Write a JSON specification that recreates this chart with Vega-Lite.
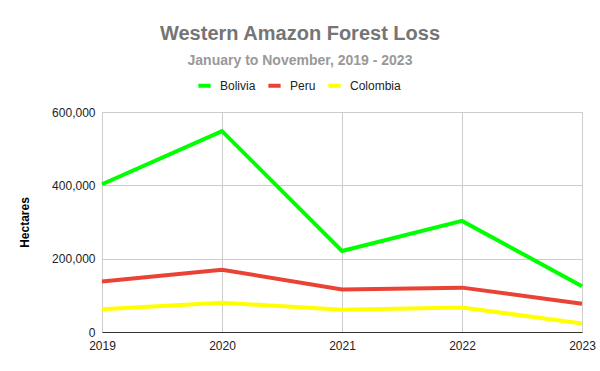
{
  "$schema": "https://vega.github.io/schema/vega-lite/v6.json",
  "autosize": {"type": "none"},
  "width": 480,
  "height": 220,
  "padding": {"left": 102, "top": 112, "right": 18, "bottom": 39},
  "background": "white",
  "title": {
    "text": "Western Amazon Forest Loss",
    "subtitle": "January to November, 2019 - 2023",
    "anchor": "middle",
    "dx": -42,
    "offset": 9,
    "font": "Liberation Sans",
    "fontSize": 20,
    "fontWeight": "bold",
    "color": "#757575",
    "subtitleFont": "Liberation Sans",
    "subtitleFontSize": 14,
    "subtitleFontWeight": "bold",
    "subtitleColor": "#999999",
    "subtitlePadding": 10
  },
  "data": {
    "values": [
      {"year": "2019", "country": "Bolivia", "hectares": 403000},
      {"year": "2020", "country": "Bolivia", "hectares": 548000},
      {"year": "2021", "country": "Bolivia", "hectares": 221000},
      {"year": "2022", "country": "Bolivia", "hectares": 303000},
      {"year": "2023", "country": "Bolivia", "hectares": 125000},
      {"year": "2019", "country": "Peru", "hectares": 138000},
      {"year": "2020", "country": "Peru", "hectares": 170000},
      {"year": "2021", "country": "Peru", "hectares": 116000},
      {"year": "2022", "country": "Peru", "hectares": 121000},
      {"year": "2023", "country": "Peru", "hectares": 77000},
      {"year": "2019", "country": "Colombia", "hectares": 62000},
      {"year": "2020", "country": "Colombia", "hectares": 80000},
      {"year": "2021", "country": "Colombia", "hectares": 61000},
      {"year": "2022", "country": "Colombia", "hectares": 67000},
      {"year": "2023", "country": "Colombia", "hectares": 23000}
    ]
  },
  "mark": {"type": "line", "strokeWidth": 4, "strokeJoin": "miter", "strokeCap": "butt"},
  "encoding": {
    "x": {
      "field": "year",
      "type": "ordinal",
      "scale": {"type": "point", "padding": 0},
      "axis": {
        "title": null,
        "labelAngle": 0,
        "labelFont": "Liberation Sans",
        "labelFontSize": 12,
        "labelColor": "#222222",
        "labelPadding": 8,
        "ticks": false,
        "grid": true,
        "gridColor": "#cccccc",
        "domainColor": "#333333",
        "domainWidth": 1
      }
    },
    "y": {
      "field": "hectares",
      "type": "quantitative",
      "scale": {"domain": [0, 600000], "nice": false},
      "axis": {
        "title": "Hectares",
        "titleFont": "Liberation Sans",
        "titleFontSize": 12,
        "titleFontWeight": "bold",
        "titleColor": "#000000",
        "titlePadding": 20,
        "values": [0, 200000, 400000, 600000],
        "format": ",d",
        "labelFont": "Liberation Sans",
        "labelFontSize": 12,
        "labelColor": "#222222",
        "labelPadding": 7,
        "ticks": false,
        "domain": false,
        "grid": true,
        "gridColor": "#cccccc"
      }
    },
    "color": {
      "field": "country",
      "type": "nominal",
      "sort": ["Bolivia", "Peru", "Colombia"],
      "scale": {"domain": ["Bolivia", "Peru", "Colombia"], "range": ["#00ff00", "#ea4335", "#ffff00"]},
      "legend": {
        "title": null,
        "orient": "none",
        "direction": "horizontal",
        "legendX": 94,
        "legendY": -35,
        "symbolType": "stroke",
        "symbolStrokeWidth": 4,
        "symbolSize": 150,
        "labelFont": "Liberation Sans",
        "labelFontSize": 12,
        "labelColor": "#222222",
        "columnPadding": 4,
        "labelOffset": 7,
        "gridAlign": "each"
      }
    }
  },
  "config": {"view": {"stroke": "#cccccc"}}
}
